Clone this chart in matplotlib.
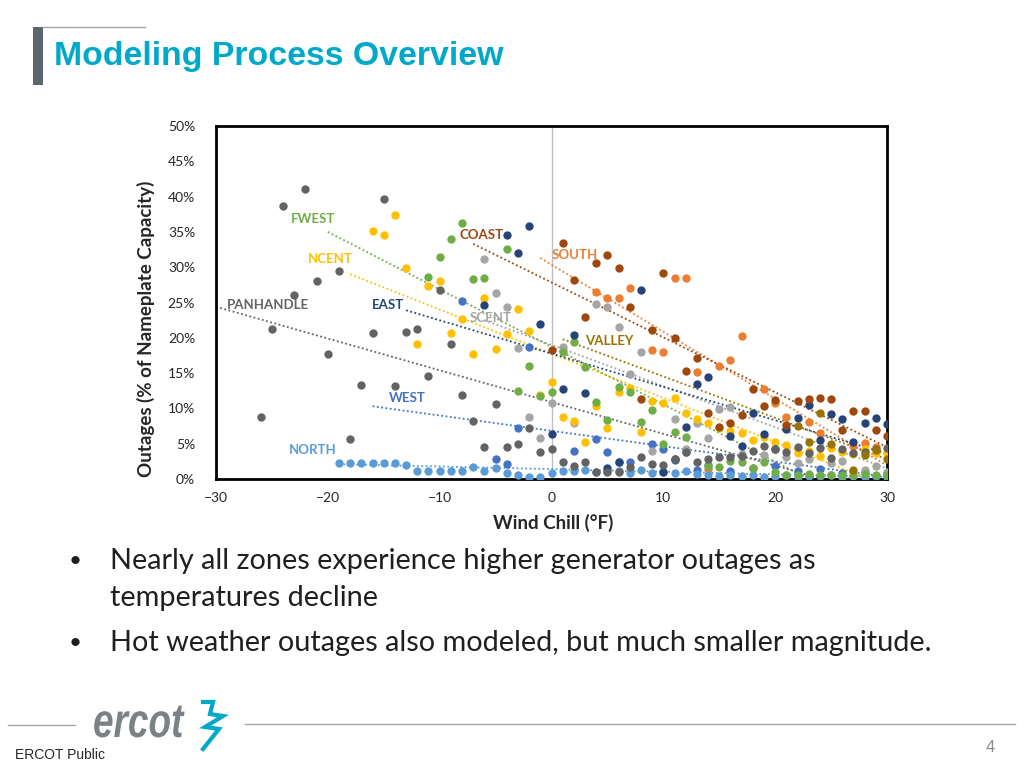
import matplotlib

matplotlib.use("Agg")

import matplotlib.pyplot as plt
from matplotlib.font_manager import FontProperties
from matplotlib.lines import Line2D
from matplotlib.patches import PathPatch, Rectangle
from matplotlib.textpath import TextPath
from matplotlib.ticker import FuncFormatter
from matplotlib.transforms import Affine2D


# Zones in the order Excel drew them (later series sit on top).
ZONES = ["WEST", "SOUTH", "SCENT", "NCENT", "NORTH", "FWEST", "EAST", "COAST", "PANHANDLE", "VALLEY"]
COLORS = ["#4472C4", "#ED7D31", "#A5A5A5", "#FFC000", "#5B9BD5",
          "#70AD47", "#264478", "#9E480E", "#636363", "#997300"]

# Wind chill (F) and outages (% of nameplate).
WEST_X = [-8, -5, -4, -3, -2, 2, 4, 5, 6, 7, 9, 10, 11, 12, 13, 14, 16, 18, 20, 22, 24, 26, 28, 30]
WEST_Y = [25.2, 2.8, 2.1, 7.2, 18.7, 4.0, 5.7, 3.8, 2.4, 2.4, 5.0, 4.2, 2.7, 3.8, 1.3, 2.0,
          1.1, 1.5, 1.9, 1.2, 1.4, 0.9, 1.0, 0.8]

SOUTH_X = [4, 5, 6, 7, 9, 10, 11, 12, 13, 14, 15, 16, 17, 19, 20, 21, 23, 24, 27, 28, 29]
SOUTH_Y = [26.5, 25.6, 25.6, 27.1, 18.3, 18.0, 28.5, 28.5, 15.2, 1.4, 16.0, 16.9, 20.3,
           12.7, 10.8, 8.8, 8.1, 6.5, 4.7, 5.1, 4.5]

SCENT_X = [-6, -5, -4, -3, -2, -1, 0, 1, 2, 4, 5, 6, 7, 8, 9, 11, 12, 13, 14, 15, 16,
           17, 19, 21, 22, 23, 25, 26, 28, 29, 30]
SCENT_Y = [31.2, 26.3, 24.3, 18.6, 8.8, 5.8, 10.8, 18.7, 7.9, 24.8, 24.4, 21.5, 14.9, 18.0,
           4.0, 8.5, 4.3, 7.9, 5.8, 9.9, 10.2, 3.5, 3.4, 3.1, 2.3, 2.8, 2.3, 2.5, 1.3, 1.8, 1.0]

NCENT_X = [-16, -15, -14, -13, -12, -11, -10, -9, -8, -7, -6, -5, -4, -3, -2, -1, 0, 1, 2,
           3, 4, 5, 6, 7, 8, 9, 10, 11, 12, 13, 14, 15, 16, 17, 18, 19, 20, 21, 22, 23, 24,
           25, 26, 27, 28, 29, 30]
NCENT_Y = [35.1, 34.6, 37.4, 29.9, 19.1, 27.3, 28.0, 20.7, 22.7, 17.7, 25.6, 18.4, 20.5,
           24.1, 21.0, 11.9, 13.7, 8.8, 8.2, 5.2, 10.3, 7.2, 12.3, 12.9, 6.7, 11.0, 10.7,
           11.5, 9.3, 8.5, 8.0, 7.2, 6.8, 6.5, 5.5, 5.9, 5.3, 4.8, 3.7, 4.0, 3.3, 4.4, 3.8,
           3.5, 4.2, 3.7, 3.7]

NORTH_X = [-19, -18, -17, -16, -15, -14, -13, -12, -11, -10, -9, -8, -7, -6, -5, -4, -3,
           -2, -1, 0, 1, 2, 3, 4, 5, 6, 7, 8, 9, 10, 11, 12, 13, 14, 15, 16, 17, 18, 19,
           20, 21, 22, 23, 24, 25, 26, 27, 28, 29, 30]
NORTH_Y = [2.3, 2.3, 2.3, 2.3, 2.3, 2.3, 2.0, 1.1, 1.1, 1.1, 1.1, 1.1, 1.7, 1.1, 1.5, 0.9,
           0.6, 0.3, 0.3, 0.9, 1.2, 1.1, 1.3, 1.0, 1.2, 1.1, 0.9, 1.3, 0.8, 1.0, 0.9, 1.2,
           0.7, 0.5, 0.4, 0.6, 0.4, 0.5, 0.3, 0.4, 0.6, 0.3, 0.4, 0.4, 0.5, 0.3, 0.4, 0.3,
           0.4, 0.3]

FWEST_X = [-11, -10, -9, -8, -7, -6, -4, -3, -2, -1, 0, 1, 2, 3, 4, 5, 6, 7, 8, 9, 10, 11,
           12, 14, 15, 16, 17, 18, 19, 20, 21, 22, 23, 24, 25, 26, 27, 28, 29, 30]
FWEST_Y = [28.6, 31.4, 34.0, 36.3, 28.3, 28.5, 32.6, 12.5, 16.0, 11.8, 12.3, 18.0, 19.4,
           15.9, 10.9, 8.4, 13.0, 12.3, 8.1, 9.8, 5.0, 6.7, 6.0, 1.8, 1.7, 2.5, 2.4, 1.6,
           2.4, 1.0, 0.6, 0.5, 0.7, 0.5, 0.6, 0.5, 0.6, 0.7, 0.5, 0.6]

EAST_X = [-6, -4, -3, -2, -1, 0, 1, 2, 3, 5, 6, 8, 10, 11, 12, 13, 14, 16, 17, 18, 19, 20,
          21, 22, 23, 24, 25, 26, 27, 28, 29, 30]
EAST_Y = [24.6, 34.6, 32.0, 35.8, 22.0, 6.4, 12.7, 20.4, 12.2, 1.6, 2.4, 26.8, 1.0, 2.8,
          7.4, 13.5, 14.4, 6.1, 4.7, 9.3, 6.4, 4.2, 7.1, 8.7, 10.5, 5.5, 9.2, 8.5, 5.3, 8.0,
          8.6, 7.8]

COAST_X = [0, 1, 2, 3, 4, 5, 6, 7, 8, 9, 10, 11, 12, 13, 14, 15, 16, 17, 18, 19, 20, 21,
           22, 23, 24, 25, 26, 27, 28, 29, 30]
COAST_Y = [18.3, 33.4, 28.2, 22.9, 30.6, 31.7, 29.9, 24.4, 11.4, 21.1, 29.2, 20.0, 15.3,
           17.1, 9.4, 7.4, 7.9, 9.1, 12.7, 10.3, 11.2, 7.6, 11.1, 11.3, 11.5, 11.4, 7.0,
           9.6, 9.6, 6.9, 6.1]

PANHANDLE_X = [-26, -25, -24, -23, -22, -21, -20, -19, -18, -17, -16, -15, -14, -13, -12,
               -11, -10, -9, -8, -7, -6, -5, -4, -3, -2, -1, 0, 1, 2, 3, 4, 5, 6, 7, 8, 9,
               10, 11, 12, 13, 14, 15, 16, 17, 18, 19, 20, 21, 22, 23, 24, 25, 26, 27, 28,
               29, 30]
PANHANDLE_Y = [8.8, 21.2, 38.7, 26.1, 41.1, 28.0, 17.7, 29.5, 5.7, 13.3, 20.7, 39.7, 13.2,
               20.8, 21.2, 14.6, 26.8, 19.1, 11.9, 8.2, 4.6, 10.6, 4.6, 5.0, 7.2, 3.8, 4.2,
               2.4, 1.8, 2.4, 1.0, 1.0, 1.0, 1.7, 3.1, 2.1, 2.0, 2.8, 3.8, 2.4, 2.8, 3.1,
               3.1, 3.2, 4.0, 4.7, 4.2, 3.8, 4.5, 3.7, 4.4, 3.0, 4.2, 3.7, 3.8, 4.3, 4.4]

VALLEY_X = [22, 23, 24, 25, 27, 28, 29, 30]
VALLEY_Y = [7.5, 5.2, 9.4, 5.0, 1.3, 3.4, 4.1, 2.8]

# Dotted linear trendlines (start / end), same order as ZONES.
TREND_X0 = [-16, -1, -6, -18, -19, -20, -13, -7, -30, 1]
TREND_Y0 = [10.3, 31.3, 22.5, 29.0, 2.1, 35.0, 23.9, 33.3, 24.4, 19.8]
TREND_X1 = [30, 30, 30, 30, 30, 30, 30, 30, 30, 30]
TREND_Y1 = [0.3, 1.9, 1.5, -1.0, 0.3, -5.7, 3.6, 4.5, -2.6, 2.8]

SERIES_X = [WEST_X, SOUTH_X, SCENT_X, NCENT_X, NORTH_X, FWEST_X, EAST_X, COAST_X,
            PANHANDLE_X, VALLEY_X]
SERIES_Y = [WEST_Y, SOUTH_Y, SCENT_Y, NCENT_Y, NORTH_Y, FWEST_Y, EAST_Y, COAST_Y,
            PANHANDLE_Y, VALLEY_Y]

# where each zone name sits (data coords, left edge / centre)
LABEL_POS = {
    "WEST": (-14.5, 11.5), "SOUTH": (0.0, 31.7), "SCENT": (-7.3, 22.8),
    "NCENT": (-21.8, 31.2), "NORTH": (-23.5, 4.1), "FWEST": (-23.3, 36.8),
    "EAST": (-16.1, 24.6), "COAST": (-8.2, 34.6), "PANHANDLE": (-29.0, 24.6),
    "VALLEY": (3.0, 19.5),
}

Y_TICKS = [0, 5, 10, 15, 20, 25, 30, 35, 40, 45, 50]
X_TICKS = [-30, -20, -10, 0, 10, 20, 30]

BULLET_LINES = [
    ("Nearly all zones experience higher generator outages as", True),
    ("temperatures decline", False),
    ("Hot weather outages also modeled, but much smaller magnitude.", True),
]

W, H = 1024, 768
BODY_FONT = "Lato"
TEAL = "#00A9C9"


def fx(px):
    return px / W


def fy(py):
    return 1 - py / H


fig = plt.figure(figsize=(10.24, 7.68), dpi=100)
fig.patch.set_facecolor("white")
# pixel coords with y pointing down, for the slide furniture
px_trans = Affine2D().scale(1 / W, -1 / H).translate(0, 1) + fig.transFigure

# slide header
fig.patches.append(Rectangle((fx(33), fy(85)), fx(10), 58 / H, transform=fig.transFigure,
                             facecolor="#5B676D", edgecolor="none"))
fig.lines.append(Line2D([fx(43), fx(145)], [fy(27), fy(27)], transform=fig.transFigure,
                        color="#A6A6A6", lw=1))
fig.text(fx(54), fy(57), "Modeling Process Overview", fontsize=24.4, fontweight="bold",
         family="Liberation Sans", color=TEAL, va="center", ha="left")

# chart
ax = fig.add_axes([fx(216), fy(479), (887 - 216) / W, (479 - 126) / H])
ax.axvline(0, color="#BFBFBF", lw=1, zorder=1)

for zone, color, xs, ys, x0, y0, x1, y1 in zip(ZONES, COLORS, SERIES_X, SERIES_Y,
                                              TREND_X0, TREND_Y0, TREND_X1, TREND_Y1):
    ax.plot(xs, ys, "o", color=color, markersize=6, markeredgewidth=0, zorder=3)
    ax.plot([x0, x1], [y0, y1], color=color, lw=1.3, linestyle=(0, (1, 1.4)), zorder=2)
    lx, ly = LABEL_POS[zone]
    ax.text(lx, ly, zone, color=color, fontsize=9.5, fontweight="bold", family=BODY_FONT,
            ha="left", va="center", zorder=4)

ax.set_xlim(-30, 30)
ax.set_ylim(0, 50)
ax.set_xticks(X_TICKS)
ax.set_yticks(Y_TICKS)
ax.yaxis.set_major_formatter(FuncFormatter(lambda v, _: f"{v:.0f}%"))
ax.tick_params(length=0, labelsize=10, colors="#262626")
ax.tick_params(axis="y", pad=15)
ax.tick_params(axis="x", pad=9)
for lab in ax.get_xticklabels() + ax.get_yticklabels():
    lab.set_family(BODY_FONT)
for sp in ax.spines.values():
    sp.set_linewidth(2)
    sp.set_color("black")

fig.text(fx(146), fy(329), "Outages (% of Nameplate Capacity)", rotation=90, fontsize=13.5,
         fontweight="bold", family=BODY_FONT, color="#262626", ha="center", va="center")
fig.text(fx(553), fy(523), "Wind Chill (\u00b0F)", fontsize=13.5, fontweight="bold",
         family=BODY_FONT, color="#262626", ha="center", va="center")

# bullets
for (text, has_dot), py in zip(BULLET_LINES, [561, 598, 643]):
    if has_dot:
        fig.text(fx(75), fy(py), "\u2022", fontsize=16, family=BODY_FONT, color="#1F1F1F",
                 ha="center", va="center")
    fig.text(fx(110), fy(py), text, fontsize=20.8, family=BODY_FONT, color="#1F1F1F",
             ha="left", va="center")

# footer
fig.lines.append(Line2D([fx(8), fx(75)], [fy(725), fy(725)], transform=fig.transFigure,
                        color="#A6A6A6", lw=1))
fig.lines.append(Line2D([fx(245), fx(1015)], [fy(724), fy(724)], transform=fig.transFigure,
                        color="#A6A6A6", lw=1))
logo = TextPath((0, 0), "ercot", size=48,
                prop=FontProperties(family="Liberation Sans", style="italic", weight="bold"))
logo_trans = Affine2D().scale(0.77, -1.0).translate(93, 737) + px_trans
fig.patches.append(PathPatch(logo, transform=logo_trans, facecolor="#7B8285",
                             edgecolor="none"))
bolt_x = [203, 213, 210, 223, 205, 219, 203]
bolt_y = [702, 702, 714, 716, 727, 729, 749]
fig.lines.append(Line2D(bolt_x, bolt_y, transform=px_trans, color=TEAL, lw=3,
                        solid_joinstyle="miter"))
fig.text(fx(15), fy(755), "ERCOT Public", fontsize=10, family="Liberation Sans",
         color="#262626", ha="left", va="center")
fig.text(fx(990), fy(748), "4", fontsize=12, family="Liberation Sans", color="#8C8C8C",
         ha="center", va="center")

fig.savefig("out.png", dpi=100)
